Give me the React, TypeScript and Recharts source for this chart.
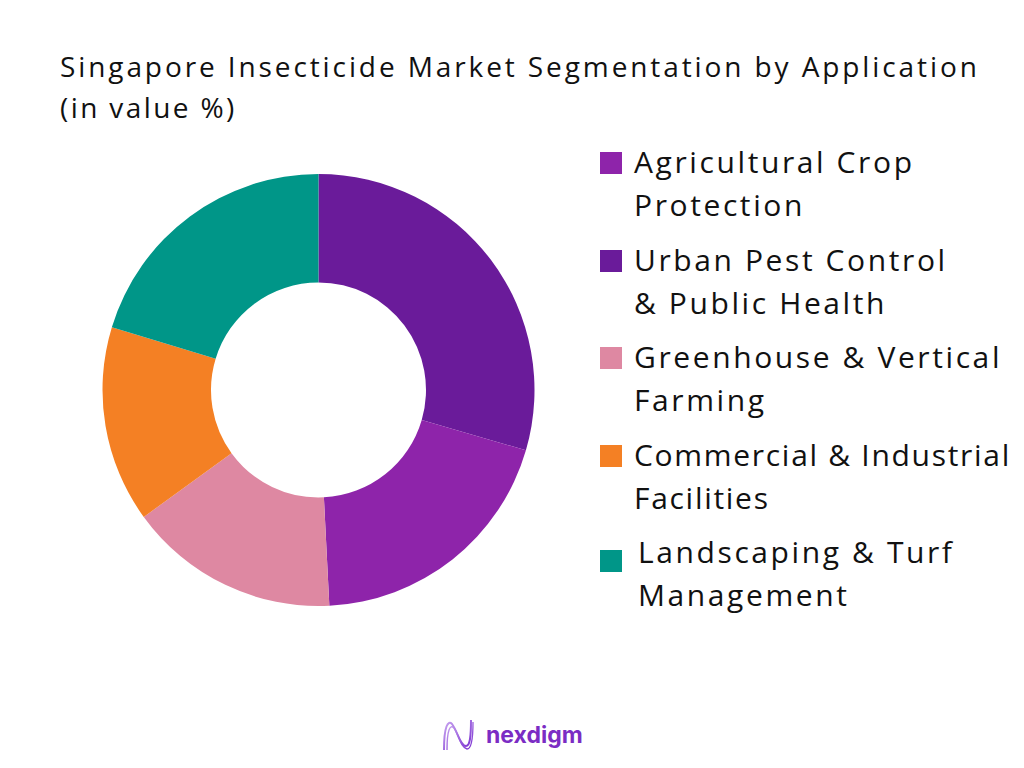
import React from 'react'
import { PieChart, Pie, Cell } from 'recharts'

// segments in drawing order (clockwise from 12 o'clock)
const SEGMENTS = [
  'Urban Pest Control & Public Health',
  'Agricultural Crop Protection',
  'Greenhouse & Vertical Farming',
  'Commercial & Industrial Facilities',
  'Landscaping & Turf Management',
]
const SHARES = [29.5, 19.7, 15.8, 14.7, 20.3]
const COLORS = ['#6a1b9a', '#8e24aa', '#de88a2', '#f48024', '#009688']

// legend order as shown on the right
const LEGEND_ORDER = [1, 0, 2, 3, 4]
const LEGEND_LINES = [
  ['Agricultural Crop', 'Protection'],
  ['Urban Pest Control', '& Public Health'],
  ['Greenhouse & Vertical', 'Farming'],
  ['Commercial & Industrial', 'Facilities'],
  ['Landscaping & Turf', 'Management'],
]

const data = SEGMENTS.map((name, i) => ({ name, value: SHARES[i] }))

function Logo() {
  return (
    <div style={{ position: 'absolute', left: 440, top: 716, display: 'flex', alignItems: 'center' }}>
      <svg width="36" height="38" viewBox="0 0 36 38">
        <defs>
          <linearGradient id="lg" x1="0" y1="0" x2="1" y2="1">
            <stop offset="0%" stopColor="#c9a6f0" />
            <stop offset="100%" stopColor="#7a2fd0" />
          </linearGradient>
        </defs>
        <path d="M4 34 C4 10, 8 4, 12 8 C18 16, 20 30, 26 30 C30 30, 31 20, 31 4" fill="none" stroke="url(#lg)" strokeWidth="2" />
        <path d="M7 34 C7 14, 10 8, 14 12 C19 19, 21 32, 27 33 C31 33, 33 22, 33 6" fill="none" stroke="url(#lg)" strokeWidth="1.4" />
      </svg>
      <span
        style={{
          marginLeft: 10,
          fontFamily: 'Inter, sans-serif',
          fontWeight: 700,
          fontSize: 23,
          color: '#7b2cc4',
        }}
      >
        nexdigm
      </span>
    </div>
  )
}

export default function App() {
  return (
    <div
      style={{
        position: 'fixed',
        top: 0,
        left: 0,
        width: 1024,
        height: 768,
        background: '#ffffff',
        overflow: 'hidden',
      }}
    >
      <div
        style={{
          position: 'absolute',
          left: 60,
          top: 46,
          fontFamily: '"Open Sans", sans-serif',
          fontSize: 28,
          lineHeight: '41px',
          color: '#111111',
          letterSpacing: 2.9,
          whiteSpace: 'nowrap',
        }}
      >
        Singapore Insecticide Market Segmentation by Application
        <br />
        <span style={{ letterSpacing: 2.4 }}>(in value %)</span>
      </div>

      <div style={{ position: 'absolute', left: 0, top: 0 }}>
        <PieChart width={1024} height={768} margin={{ top: 0, right: 0, bottom: 0, left: 0 }}>
          <Pie
            data={data}
            dataKey="value"
            nameKey="name"
            cx={318.5}
            cy={390}
            innerRadius={107.5}
            outerRadius={216}
            startAngle={90}
            endAngle={-270}
            stroke="none"
            isAnimationActive={false}
          >
            {data.map((d, i) => (
              <Cell key={d.name} fill={COLORS[i]} />
            ))}
          </Pie>
        </PieChart>
      </div>

      {LEGEND_ORDER.map((idx, k) => (
        <div
          key={SEGMENTS[idx]}
          style={{
            position: 'absolute',
            left: 600,
            top: 140 + k * 97.5,
            display: 'flex',
            alignItems: 'flex-start',
          }}
        >
          <div
            style={{
              width: 22,
              height: 22,
              background: COLORS[idx],
              marginTop: k === 4 ? 20 : 12,
            }}
          />
          <div
            style={{
              marginLeft: k === 4 ? 16 : 12,
              fontFamily: '"Open Sans", sans-serif',
              fontSize: 30,
              lineHeight: '43px',
              color: '#111111',
              letterSpacing: k === 3 ? 1.7 : 2.6,
              whiteSpace: 'nowrap',
            }}
          >
            {LEGEND_LINES[k][0]}
            <br />
            {LEGEND_LINES[k][1]}
          </div>
        </div>
      ))}

      <Logo />
    </div>
  )
}
